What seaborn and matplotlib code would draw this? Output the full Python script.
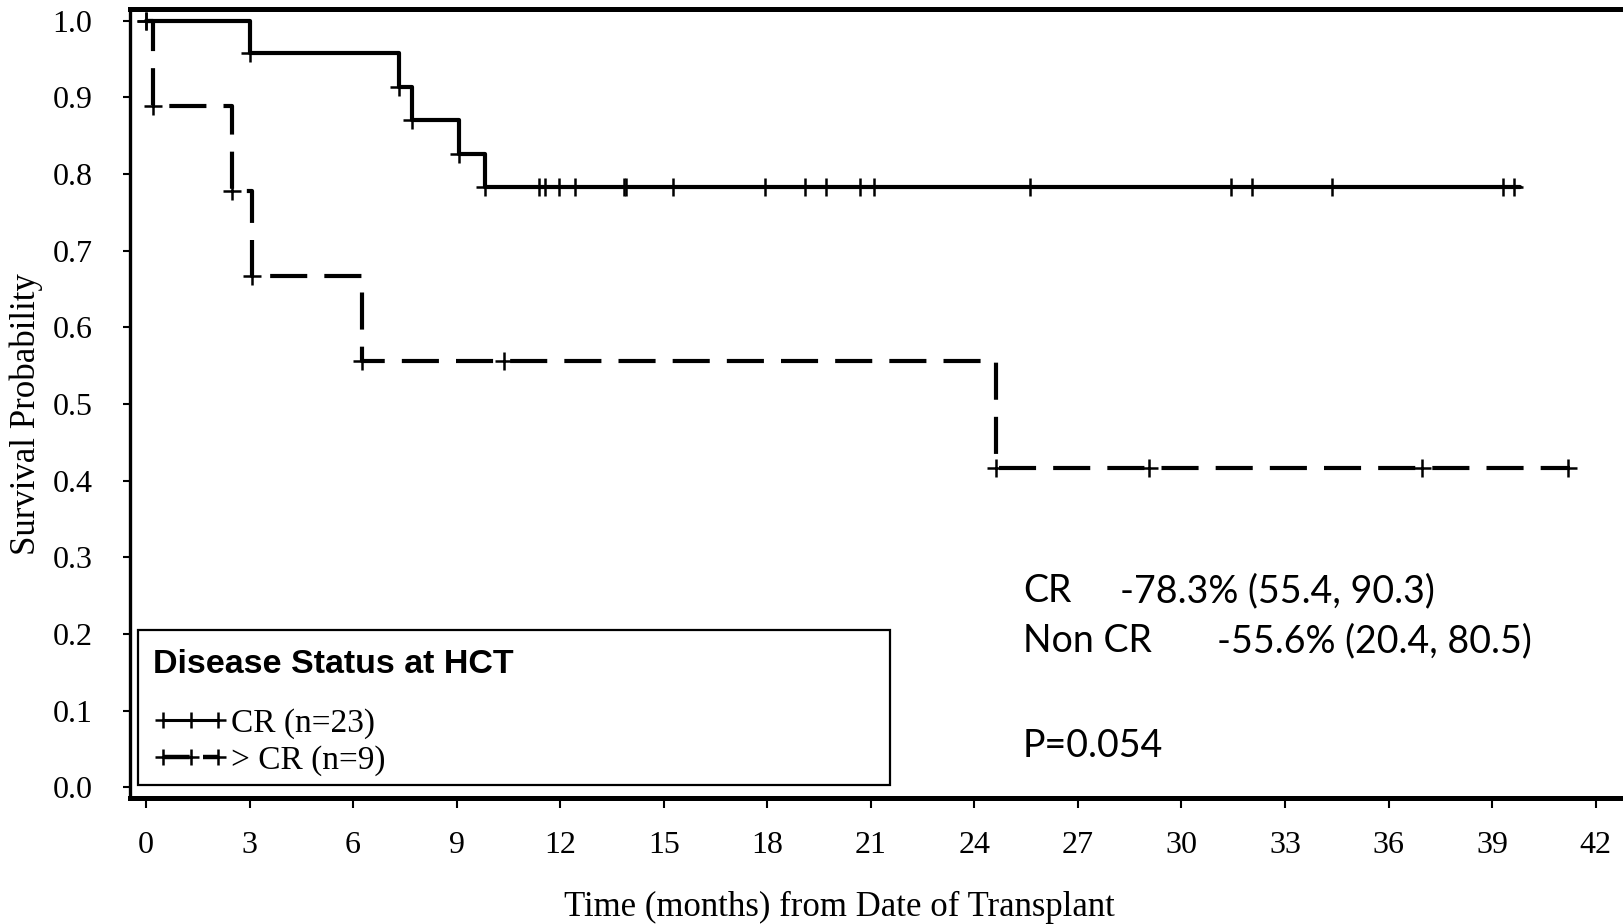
import numpy as np
import pandas as pd
import matplotlib
matplotlib.use("Agg")
import matplotlib.pyplot as plt
from matplotlib.lines import Line2D
from matplotlib.patches import Rectangle
import seaborn as sns

# Kaplan-Meier estimates by disease status at HCT (time in months)
cr_event_times = [0.0, 3.0, 7.32, 7.71, 9.06, 9.81]
cr_surv = [1.0, 0.957, 0.913, 0.870, 0.826, 0.783]
cr_censor_times = [11.38, 11.57, 11.96, 12.44, 13.86, 13.92, 15.26, 17.92, 19.08,
                   19.71, 20.70, 21.09, 25.62, 31.44, 32.05, 34.36, 39.31, 39.64]
cr_last_followup = 39.8

nc_event_times = [0.0, 0.2, 2.5, 3.08, 6.27, 24.63]
nc_surv = [1.0, 0.889, 0.778, 0.667, 0.556, 0.417]
nc_censor_times = [10.38, 29.06, 36.98, 41.2]
nc_last_followup = 41.25

group_labels = ["CR (n=23)", "> CR (n=9)"]
legend_title = "Disease Status at HCT"
x_ticks = list(range(0, 43, 3))
y_ticks = [round(0.1 * i, 1) for i in range(11)]
summary_names = ["CR", "Non CR"]
summary_values = ["-78.3% (55.4, 90.3)", "-55.6% (20.4, 80.5)"]
p_value_text = "P=0.054"


def step_frame(times, surv, last, label):
    t = list(times) + [last]
    s = list(surv) + [surv[-1]]
    return pd.DataFrame({"time": t, "surv": s, "group": label})


def censor_frame(censor_times, times, surv, label):
    # survival level at each censoring time
    levels = []
    for c in censor_times:
        idx = max(i for i, t in enumerate(times) if t <= c)
        levels.append(surv[idx])
    return pd.DataFrame({"time": censor_times, "surv": levels, "group": label})


curves = pd.concat([
    step_frame(cr_event_times, cr_surv, cr_last_followup, "CR"),
    step_frame(nc_event_times, nc_surv, nc_last_followup, "NC"),
], ignore_index=True)

marks = pd.concat([
    censor_frame(cr_censor_times, cr_event_times, cr_surv, "CR"),
    censor_frame(nc_censor_times, nc_event_times, nc_surv, "NC"),
    pd.DataFrame({"time": cr_event_times, "surv": cr_surv, "group": "CR"}),
    pd.DataFrame({"time": nc_event_times, "surv": nc_surv, "group": "NC"}),
], ignore_index=True)

sns.set_theme(style="white")
plt.rcParams["font.family"] = ["Liberation Serif", "DejaVu Serif"]
plt.rcParams["axes.linewidth"] = 2.2
plt.rcParams["text.color"] = "black"
plt.rcParams["legend.labelcolor"] = "black"

fig = plt.figure(figsize=(16.24, 9.24), dpi=100)
ax = fig.add_axes([130 / 1624, 126 / 924, 1494 / 1624, 789 / 924])

LW = 3.0
DASH = (8.9, 4.1)

sns.lineplot(data=curves, x="time", y="surv", style="group",
             dashes={"CR": "", "NC": DASH}, color="black", linewidth=LW,
             drawstyle="steps-post", estimator=None, legend=False, ax=ax)

sns.scatterplot(data=marks, x="time", y="surv", marker="+", s=150,
                color="black", linewidth=1.8, legend=False, ax=ax, zorder=3)

ax.set_xlim(-0.4635, 42.82)
ax.set_ylim(-0.0137, 1.015)
ax.set_xticks(x_ticks)
ax.set_xticklabels([str(v) for v in x_ticks])
ax.set_yticks(y_ticks)
ax.set_yticklabels([f"{v:.1f}" for v in y_ticks])

ax.spines["right"].set_visible(False)
ax.spines["top"].set_linewidth(3.6)
ax.spines["bottom"].set_linewidth(3.6)
ax.spines["left"].set_linewidth(2.4)
for s in ax.spines.values():
    s.set_color("black")

ax.tick_params(axis="y", which="major", left=True, direction="out",
               length=5, width=1.5, pad=22, labelsize=23, colors="black")
ax.tick_params(axis="x", which="major", bottom=True, direction="out",
               length=7, width=1.5, pad=17, labelsize=23, colors="black")

ax.set_xlabel("Time (months) from Date of Transplant", fontsize=25, color="black")
ax.set_ylabel("Survival Probability", fontsize=25, color="black")
ax.xaxis.set_label_coords(0.475, -0.118)
ax.yaxis.set_label_coords(-0.058, 0.487)

# legend panel
ax.add_patch(Rectangle((0.00535, 0.0165), 0.5033, 0.1965, transform=ax.transAxes,
                       fill=False, edgecolor="black", linewidth=1.6, zorder=4))
ax.text(0.0154, 0.1698, legend_title, transform=ax.transAxes, ha="left",
        va="center", fontsize=24.5, fontweight="bold",
        family=["Liberation Sans", "DejaVu Sans"], color="black")

handles = [
    Line2D([], [], color="black", linewidth=2.2, marker="+", markersize=11,
           markeredgewidth=1.8),
    Line2D([], [], color="black", linewidth=3.2, linestyle=(0, (6, 3)),
           marker="+", markersize=11, markeredgewidth=1.8),
]
ax.legend(handles, group_labels, loc="center left",
          bbox_to_anchor=(0.0154, 0.0705), bbox_transform=ax.transAxes,
          frameon=False, borderpad=0, borderaxespad=0, numpoints=3,
          handlelength=2.25, handletextpad=0.08, labelspacing=0.18,
          labelcolor="black",
          prop={"family": "Liberation Serif", "size": 24})

# survival summary
sans = ["Lato", "DejaVu Sans"]
ax.text(0.5977, 0.2624, summary_names[0], transform=ax.transAxes,
        ha="left", va="center", fontsize=27, family=sans, color="black")
ax.text(0.6624, 0.2624, summary_values[0], transform=ax.transAxes,
        ha="left", va="center", fontsize=27, family=sans, color="black")
ax.text(0.5977, 0.199, summary_names[1], transform=ax.transAxes,
        ha="left", va="center", fontsize=27, family=sans, color="black")
ax.text(0.7276, 0.199, summary_values[1], transform=ax.transAxes,
        ha="left", va="center", fontsize=27, family=sans, color="black")
ax.text(0.5977, 0.0659, p_value_text, transform=ax.transAxes,
        ha="left", va="center", fontsize=27, family=sans, color="black")

fig.savefig("out.png", dpi=100, facecolor="white")
